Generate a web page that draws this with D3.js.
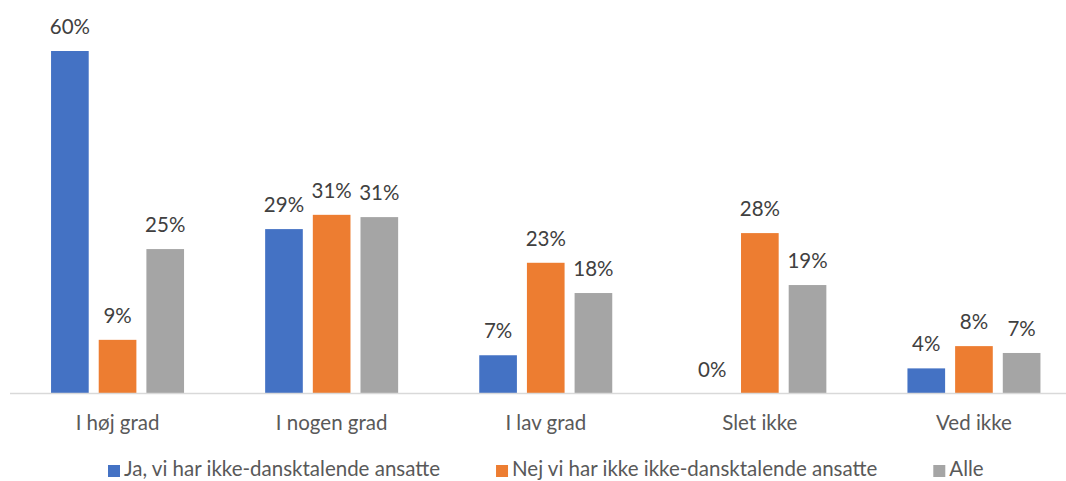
<!DOCTYPE html>
<html>
<head>
<meta charset="utf-8">
<script src="https://cdn.jsdelivr.net/npm/d3@7"></script>
<style>
  html, body { margin: 0; padding: 0; background: #fff; }
  svg { display: block; font-family: Lato, "Open Sans", sans-serif; }
</style>
</head>
<body>
<svg id="chart" width="1066" height="481"></svg>
<script>
const categories = ["I høj grad", "I nogen grad", "I lav grad", "Slet ikke", "Ved ikke"];
const seriesNames = ["Ja, vi har ikke-dansktalende ansatte", "Nej vi har ikke ikke-dansktalende ansatte", "Alle"];
const seriesJa = [0.60, 0.288, 0.067, 0.0, 0.044];
const seriesNej = [0.094, 0.313, 0.229, 0.281, 0.083];
const seriesAlle = [0.253, 0.309, 0.176, 0.190, 0.071];
const colors = ["#4472C4", "#ED7D31", "#A5A5A5"];

const seriesValues = [seriesJa, seriesNej, seriesAlle];
const svg = d3.select("#chart");
const FS = 20.5;

const baseY = 393.5;
const x0 = d3.scaleBand().domain(categories).range([10.5, 1081]).paddingInner(0).paddingOuter(0);
const x1 = d3.scaleBand().domain(d3.range(3)).range([x0.bandwidth() / 2 - 66.5, x0.bandwidth() / 2 + 66.5]).paddingInner(0.21).paddingOuter(0);
const y = d3.scaleLinear().domain([0, 0.60]).range([baseY, 51]);
const fmt = d3.format(".0%");

const groups = svg.append("g").selectAll("g")
  .data(categories)
  .join("g")
  .attr("transform", c => `translate(${x0(c)},0)`);

groups.selectAll("rect")
  .data((c, i) => seriesValues.map((s, k) => ({ k, v: s[i] })))
  .join("rect")
  .attr("x", d => x1(d.k))
  .attr("width", x1.bandwidth())
  .attr("y", d => y(d.v))
  .attr("height", d => baseY - y(d.v))
  .attr("fill", d => colors[d.k]);

groups.selectAll("text.lbl")
  .data((c, i) => seriesValues.map((s, k) => ({ k, v: s[i] })))
  .join("text")
  .attr("class", "lbl")
  .attr("x", d => x1(d.k) + x1.bandwidth() / 2)
  .attr("y", d => y(d.v) - 17)
  .attr("text-anchor", "middle")
  .attr("font-size", FS)
  .attr("fill", "#404040")
  .text(d => fmt(d.v));

// axis
const xAxis = d3.axisBottom(x0).tickSize(0).tickPadding(0);
const ax = svg.append("g").attr("transform", `translate(0,${baseY})`).call(xAxis);
ax.select(".domain").attr("stroke", "#D9D9D9").attr("stroke-width", 1.5).attr("d", `M10,0H1066`);
ax.selectAll("text").attr("font-size", FS).attr("fill", "#595959")
  .attr("font-family", "Lato, 'Open Sans', sans-serif").attr("y", 36.5).attr("dy", 0);

// legend
const legend = svg.append("g");
let lx = 108;
seriesNames.forEach((name, k) => {
  legend.append("rect").attr("x", lx).attr("y", 465).attr("width", 12).attr("height", 12).attr("fill", colors[k]);
  const t = legend.append("text").attr("x", lx + 16).attr("y", 476).attr("font-size", FS).attr("fill", "#595959").text(name);
  const w = t.node().getComputedTextLength();
  lx = lx + 16 + w + 56;
});
</script>
</body>
</html>
